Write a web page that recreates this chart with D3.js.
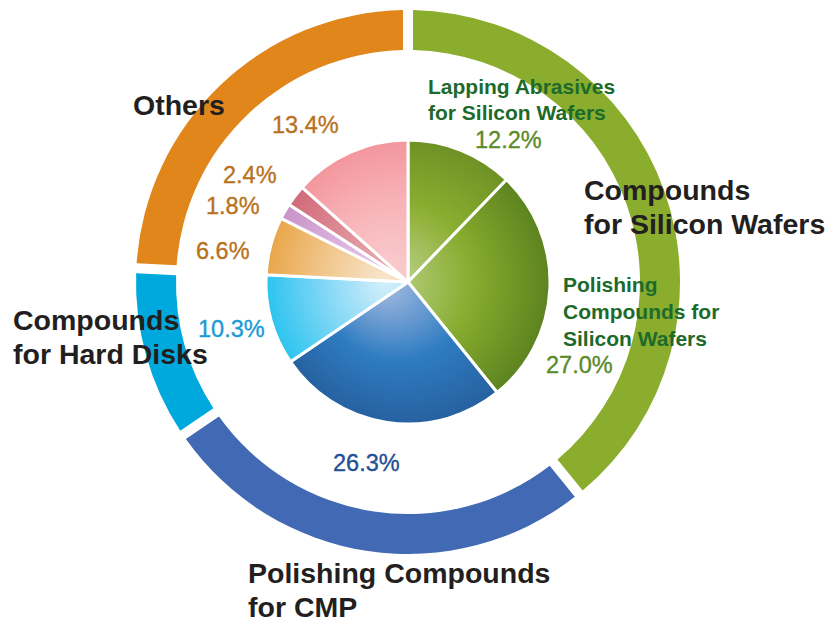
<!DOCTYPE html>
<html>
<head>
<meta charset="utf-8">
<script src="https://cdn.jsdelivr.net/npm/d3@7"></script>
<style>
  html, body { margin: 0; padding: 0; background: #fff; }
  svg { display: block; }
  text { font-family: "Liberation Sans", Arial, Helvetica, sans-serif; }
</style>
</head>
<body>
<svg id="chart" width="830" height="623"></svg>
<script>
// Product mix: share of sales (%) by product line, clockwise from 12 o'clock
const segments = ["Lapping Abrasives", "Polishing Compounds (Si)", "CMP", "Hard Disks",
                  "Others 6.6", "Others 1.8", "Others 2.4", "Others 13.4"];
const shares   = [12.2, 27.0, 26.3, 10.3, 6.6, 1.8, 2.4, 13.4];
const segmentGroup = [0, 0, 1, 2, 3, 3, 3, 3];

// Outer ring groups
const groups = ["Compounds for Silicon Wafers", "Polishing Compounds for CMP",
                "Compounds for Hard Disks", "Others"];
const groupShares = groups.map((g, i) =>
  d3.sum(shares.filter((v, j) => segmentGroup[j] === i)));

// Colours
const ringColors = ["#8aad2e", "#4169b4", "#00a9dd", "#e0861b"];
const sliceStops = [
  ["#c3d79a", "#8aae30", "#6e9125"],
  ["#bcd48a", "#86ab2d", "#5d8320"],
  ["#a9bde2", "#2f7cc1", "#2661a0"],
  ["#d3eefb", "#7ad5f5", "#2bc4ef"],
  ["#f8e6cc", "#f0c488", "#e9a64a"],
  ["#ead2ea", "#d8addb", "#c994c8"],
  ["#eab0b6", "#dc8a94", "#d16a79"],
  ["#fad0d2", "#f7b4b8", "#f3969d"]
];

const W = 830, H = 623;
const cx = 408, cy = 282;
const pieR = 142;
const ringOuter = 272, ringInner = 232;

const svg = d3.select("#chart");
const defs = svg.append("defs");

const pie = d3.pie().sort(null).value(d => d).startAngle(0).endAngle(2 * Math.PI);

// Radial shading for each inner slice (in the pie group's own coordinates)
sliceStops.forEach((s, i) => {
  const g = defs.append("radialGradient")
    .attr("id", "sg" + i)
    .attr("gradientUnits", "userSpaceOnUse")
    .attr("cx", 0).attr("cy", 0).attr("r", pieR)
    .attr("fx", -25).attr("fy", 0);
  g.append("stop").attr("offset", 0).attr("stop-color", s[0]);
  g.append("stop").attr("offset", 0.55).attr("stop-color", s[1]);
  g.append("stop").attr("offset", 1).attr("stop-color", s[2]);
});

const root = svg.append("g").attr("transform", `translate(${cx},${cy})`);

// Outer ring
const ringArc = d3.arc()
  .innerRadius(ringInner).outerRadius(ringOuter)
  .padAngle(10 / 252).padRadius(252);

root.append("g").selectAll("path")
  .data(pie(groupShares))
  .join("path")
  .attr("d", ringArc)
  .attr("fill", (d, i) => ringColors[i]);

// Inner pie
const sliceArc = d3.arc().innerRadius(0).outerRadius(pieR);
root.append("g").selectAll("path")
  .data(pie(shares))
  .join("path")
  .attr("d", sliceArc)
  .attr("fill", (d, i) => `url(#sg${i})`)
  .attr("stroke", "#fff")
  .attr("stroke-width", 3)
  .attr("stroke-linejoin", "round");

// Group titles
const titleColor = "#231f20";
const titles = [
  { lines: ["Compounds", "for Silicon Wafers"], x: 584, y: 200 },
  { lines: ["Polishing Compounds", "for CMP"], x: 248, y: 583 },
  { lines: ["Compounds", "for Hard Disks"], x: 13, y: 330 },
  { lines: ["Others"], x: 133, y: 115 }
];
titles.forEach(t => {
  const txt = svg.append("text")
    .attr("x", t.x).attr("y", t.y)
    .attr("fill", titleColor)
    .attr("font-size", 28.5).attr("font-weight", "bold");
  t.lines.forEach((l, k) => txt.append("tspan")
    .attr("x", t.x).attr("y", t.y + k * 34).text(l));
});

// Segment names (silicon wafer lines)
const segNames = [
  { lines: ["Lapping Abrasives", "for Silicon Wafers"], x: 428, y: 94, dy: 26 },
  { lines: ["Polishing", "Compounds for", "Silicon Wafers"], x: 563, y: 292, dy: 27 }
];
segNames.forEach(t => {
  const txt = svg.append("text")
    .attr("fill", "#1d6a2b")
    .attr("font-size", 21).attr("font-weight", "bold");
  t.lines.forEach((l, k) => txt.append("tspan")
    .attr("x", t.x).attr("y", t.y + k * t.dy).text(l));
});

// Percentage labels
const pctColor = ["#5a8a2a", "#5a8a2a", "#1f4f95", "#1a9ad5",
                  "#b8721d", "#b8721d", "#b8721d", "#b8721d"];
const pctPos = [
  [475, 148], [546, 373], [333, 471], [198, 337],
  [196, 259], [206, 214], [223, 183], [272, 133]
];
const fmt = d3.format(".1f");
svg.append("g").selectAll("text")
  .data(shares)
  .join("text")
  .attr("x", (d, i) => pctPos[i][0])
  .attr("y", (d, i) => pctPos[i][1])
  .attr("fill", (d, i) => pctColor[i])
  .attr("font-size", 23.5)
  .attr("stroke", (d, i) => pctColor[i])
  .attr("stroke-width", 0.35)
  .text(d => fmt(d) + "%");
</script>
</body>
</html>
